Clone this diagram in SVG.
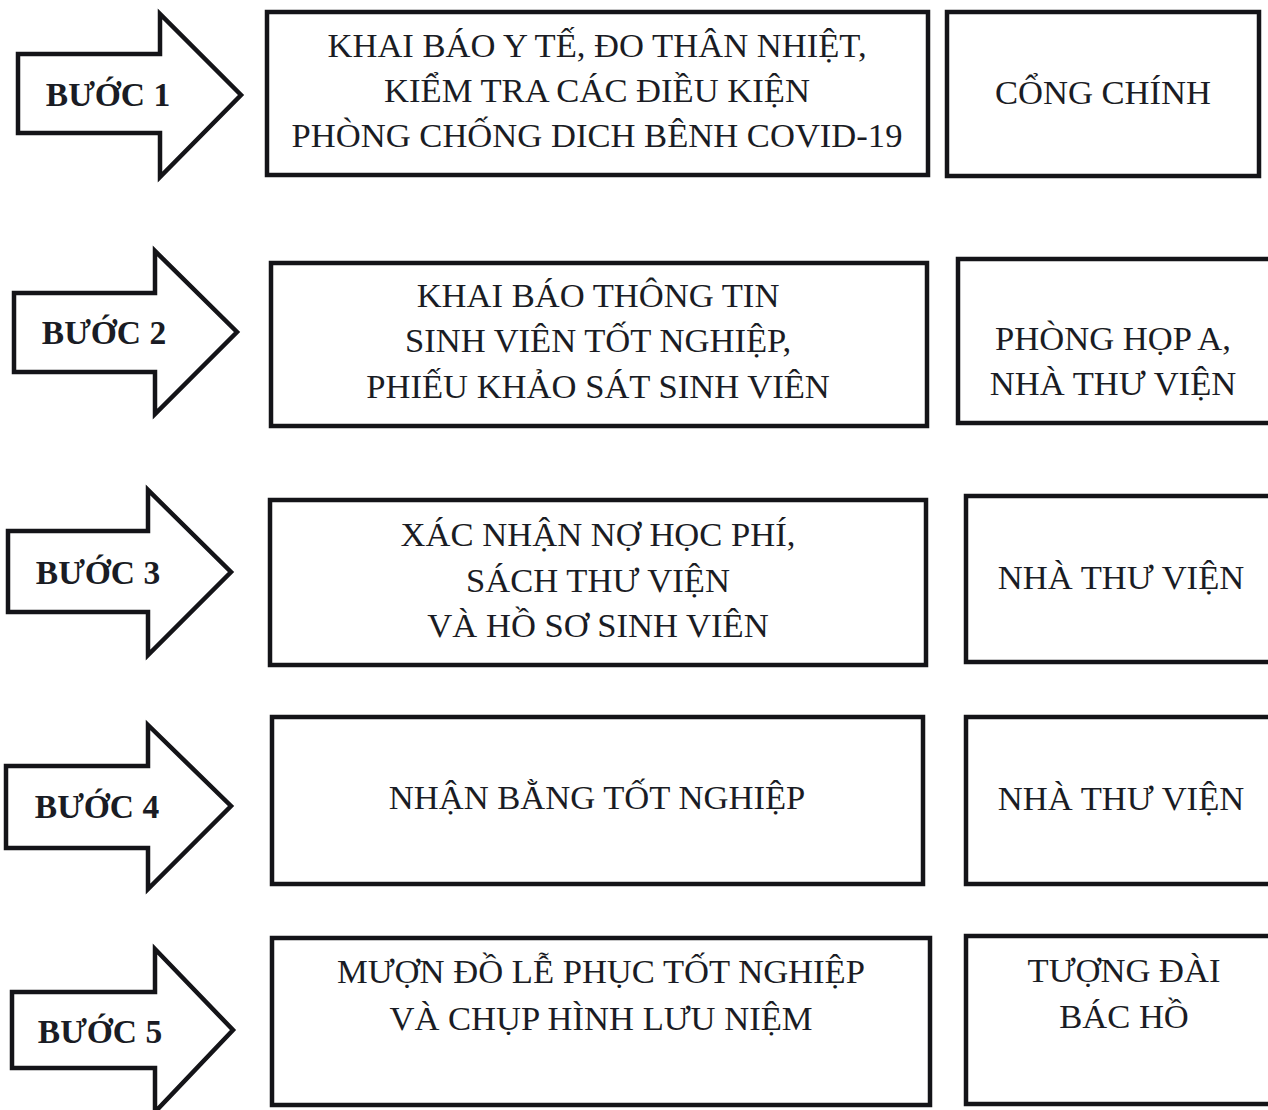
<svg xmlns="http://www.w3.org/2000/svg" width="1268" height="1110" viewBox="0 0 1268 1110">
<style>
.box{fill:#fff;stroke:#141418;stroke-width:4.5}
.arr{fill:#fff;stroke:#141418;stroke-width:4.5;stroke-linejoin:miter}
.t{font-family:"Liberation Serif","Times New Roman",serif;font-size:34.6px;fill:#1a1c24;text-anchor:middle}
.s{font-family:"Liberation Serif","Times New Roman",serif;font-size:33.5px;font-weight:bold;fill:#1a1c24;text-anchor:middle}
</style>
<rect width="1268" height="1110" fill="#fff"/>
<g id="connectors">
<path id="arrow1" class="arr" d="M18,54 H160 V14 L241,95 L160,177 V133 H18 Z"/>
<path id="arrow2" class="arr" d="M14,293 H155 V251 L237,332 L155,414 V372 H14 Z"/>
<path id="arrow3" class="arr" d="M8,531 H148 V490 L231,572 L148,655 V612 H8 Z"/>
<path id="arrow4" class="arr" d="M6,766 H148 V725 L231,806 L148,889 V848 H6 Z"/>
<path id="arrow5" class="arr" d="M12,992 H155 V949 L233,1030 L155,1112 V1068 H12 Z"/>
</g>
<g id="step1">
<text class="s" x="108" y="106">BƯỚC 1</text>
</g>
<g id="step2">
<text class="s" x="104" y="344">BƯỚC 2</text>
</g>
<g id="step3">
<text class="s" x="98" y="584">BƯỚC 3</text>
</g>
<g id="step4">
<text class="s" x="97" y="818">BƯỚC 4</text>
</g>
<g id="step5">
<text class="s" x="100" y="1043">BƯỚC 5</text>
</g>
<g id="task1">
<rect class="box" x="267" y="12" width="661" height="163"/>
<text class="t" x="597" y="57">KHAI BÁO Y TẾ, ĐO THÂN NHIỆT,</text>
<text class="t" x="597" y="102">KIỂM TRA CÁC ĐIỀU KIỆN</text>
<text class="t" x="597" y="147">PHÒNG CHỐNG DICH BÊNH COVID-19</text>
</g>
<g id="place1">
<rect class="box" x="947" y="12" width="312" height="164"/>
<text class="t" x="1103" y="104">CỔNG CHÍNH</text>
</g>
<g id="task2">
<rect class="box" x="271" y="263" width="656" height="163"/>
<text class="t" x="598" y="307">KHAI BÁO THÔNG TIN</text>
<text class="t" x="598" y="352">SINH VIÊN TỐT NGHIỆP,</text>
<text class="t" x="598" y="398">PHIẾU KHẢO SÁT SINH VIÊN</text>
</g>
<g id="place2">
<rect class="box" x="958" y="259" width="314" height="164"/>
<text class="t" x="1113" y="350">PHÒNG HỌP A,</text>
<text class="t" x="1113" y="395">NHÀ THƯ VIỆN</text>
</g>
<g id="task3">
<rect class="box" x="270" y="500" width="656" height="165"/>
<text class="t" x="598" y="546">XÁC NHẬN NỢ HỌC PHÍ,</text>
<text class="t" x="598" y="592">SÁCH THƯ VIỆN</text>
<text class="t" x="598" y="637">VÀ HỒ SƠ SINH VIÊN</text>
</g>
<g id="place3">
<rect class="box" x="966" y="496" width="306" height="166"/>
<text class="t" x="1121" y="589">NHÀ THƯ VIỆN</text>
</g>
<g id="task4">
<rect class="box" x="272" y="717" width="651" height="167"/>
<text class="t" x="597" y="809">NHẬN BẰNG TỐT NGHIỆP</text>
</g>
<g id="place4">
<rect class="box" x="966" y="717" width="306" height="167"/>
<text class="t" x="1121" y="810">NHÀ THƯ VIỆN</text>
</g>
<g id="task5">
<rect class="box" x="272" y="938" width="658" height="167"/>
<text class="t" x="601" y="983">MƯỢN ĐỒ LỄ PHỤC TỐT NGHIỆP</text>
<text class="t" x="601" y="1030">VÀ CHỤP HÌNH LƯU NIỆM</text>
</g>
<g id="place5">
<rect class="box" x="966" y="936" width="306" height="168"/>
<text class="t" x="1124" y="982">TƯỢNG ĐÀI</text>
<text class="t" x="1124" y="1028">BÁC HỒ</text>
</g>
</svg>
